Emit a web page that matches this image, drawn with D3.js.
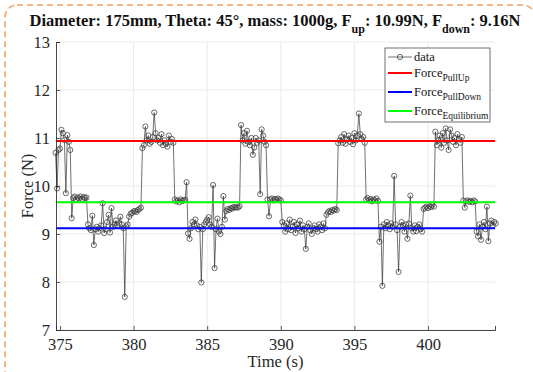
<!DOCTYPE html>
<html><head><meta charset="utf-8">
<script src="https://cdn.jsdelivr.net/npm/d3@7"></script>
<style>
html,body{margin:0;padding:0;background:#fff;}
svg{display:block;font-family:"Liberation Serif","Times New Roman",serif;}
svg text{font-family:"Liberation Serif","Times New Roman",serif;}
</style></head>
<body>
<svg id="c" width="533" height="372"></svg>
<script>
// ---- data ----
const time = [
374.7,374.8,374.9,375.0,375.1,375.2,375.3,375.4,375.5,375.6,375.7,375.8,375.9,376.0,376.1,376.2,376.3,376.4,376.5,376.6,
376.7,376.8,376.9,377.0,377.1,377.2,377.3,377.4,377.5,377.6,377.7,377.8,377.9,378.0,378.1,378.2,378.3,378.4,378.5,378.6,
378.7,378.8,378.9,379.0,379.1,379.2,379.3,379.4,379.5,379.6,379.7,379.8,379.9,380.0,380.1,380.2,380.3,380.4,380.5,380.6,
380.7,380.8,380.9,381.0,381.1,381.2,381.3,381.4,381.5,381.6,381.7,381.8,381.9,382.0,382.1,382.2,382.3,382.4,382.5,382.6,
382.7,382.8,382.9,383.0,383.1,383.2,383.3,383.4,383.5,383.6,383.7,383.8,383.9,384.0,384.1,384.2,384.3,384.4,384.5,384.6,
384.7,384.8,384.9,385.0,385.1,385.2,385.3,385.4,385.5,385.6,385.7,385.8,385.9,386.0,386.1,386.2,386.3,386.4,386.5,386.6,
386.7,386.8,386.9,387.0,387.1,387.2,387.3,387.4,387.5,387.6,387.7,387.8,387.9,388.0,388.1,388.2,388.3,388.4,388.5,388.6,
388.7,388.8,388.9,389.0,389.1,389.2,389.3,389.4,389.5,389.6,389.7,389.8,389.9,390.0,390.1,390.2,390.3,390.4,390.5,390.6,
390.7,390.8,390.9,391.0,391.1,391.2,391.3,391.4,391.5,391.6,391.7,391.8,391.9,392.0,392.1,392.2,392.3,392.4,392.5,392.6,
392.7,392.8,392.9,393.0,393.1,393.2,393.3,393.4,393.5,393.6,393.7,393.8,393.9,394.0,394.1,394.2,394.3,394.4,394.5,394.6,
394.7,394.8,394.9,395.0,395.1,395.2,395.3,395.4,395.5,395.6,395.7,395.8,395.9,396.0,396.1,396.2,396.3,396.4,396.5,396.6,
396.7,396.8,396.9,397.0,397.1,397.2,397.3,397.4,397.5,397.6,397.7,397.8,397.9,398.0,398.1,398.2,398.3,398.4,398.5,398.6,
398.7,398.8,398.9,399.0,399.1,399.2,399.3,399.4,399.5,399.6,399.7,399.8,399.9,400.0,400.1,400.2,400.3,400.4,400.5,400.6,
400.7,400.8,400.9,401.0,401.1,401.2,401.3,401.4,401.5,401.6,401.7,401.8,401.9,402.0,402.1,402.2,402.3,402.4,402.5,402.6,
402.7,402.8,402.9,403.0,403.1,403.2,403.3,403.4,403.5,403.6,403.7,403.8,403.9,404.0,404.1,404.2,404.3,404.4,404.5,404.6
];
const force = [
10.69,9.95,10.75,10.78,11.17,11.10,10.96,9.85,11.06,10.92,10.75,9.33,9.75,9.78,9.72,9.76,9.74,9.78,9.73,9.77,
9.75,9.76,9.20,9.12,9.08,9.38,8.77,9.10,9.15,9.05,9.12,9.18,9.64,9.02,9.10,9.25,9.40,9.03,9.54,9.15,
9.20,9.28,9.18,9.22,9.36,9.20,9.12,7.69,9.16,9.20,9.36,9.42,9.44,9.47,9.48,9.46,9.50,9.52,9.55,10.79,
10.85,11.24,10.95,11.05,10.88,10.92,11.02,11.53,11.10,10.95,11.00,10.90,11.08,10.85,10.95,10.88,10.82,11.05,10.92,10.98,
10.90,9.72,9.68,9.70,9.66,9.72,9.69,9.70,9.71,10.08,9.01,8.90,9.12,9.25,9.20,9.30,9.18,9.10,9.15,7.99,
9.10,9.20,9.25,9.30,9.35,9.20,9.15,10.02,8.29,9.10,9.32,9.05,9.00,9.15,9.79,9.30,9.48,9.52,9.50,9.54,
9.53,9.56,9.55,9.56,9.55,9.58,11.27,10.95,11.10,10.88,11.15,10.92,10.85,11.00,10.65,10.80,11.00,10.90,10.95,9.83,
11.18,11.05,10.92,10.85,9.72,9.37,9.72,9.74,9.70,9.73,9.71,9.74,9.72,9.70,9.25,9.18,9.05,9.22,9.10,9.30,
9.08,9.15,9.25,9.02,9.20,9.12,9.28,9.05,9.18,9.10,8.69,9.15,9.22,9.08,9.00,9.12,9.18,9.10,9.05,9.20,
9.15,9.08,9.22,9.12,9.40,9.45,9.48,9.46,9.50,9.49,9.52,9.50,10.89,10.95,11.02,10.90,11.08,10.88,10.97,11.05,
10.92,11.00,10.87,11.10,10.95,11.05,11.51,11.08,10.98,11.02,10.90,9.72,9.75,9.70,9.73,9.68,9.72,9.70,9.74,9.69,
8.84,9.15,7.92,9.20,9.12,9.25,9.18,9.10,9.22,9.15,10.21,9.20,9.08,8.21,9.15,9.25,9.18,9.05,9.20,8.90,
9.22,9.80,9.12,9.05,9.18,9.06,9.15,9.20,9.10,9.05,9.52,9.55,9.57,9.54,9.58,9.56,9.60,9.57,11.13,10.85,
10.95,11.05,10.80,11.10,10.90,11.20,10.95,10.75,11.18,11.05,10.92,11.00,10.85,11.08,10.98,10.90,11.02,9.70,9.55,9.68,
9.70,9.67,9.69,9.66,9.70,9.68,9.05,8.95,9.20,8.88,9.15,9.25,9.10,9.57,8.85,9.22,9.28,9.18,9.25,9.22
];
const refNames = ["PullUp","PullDown","Equilibrium"];
const refValues = [10.94, 9.12, 9.66];
const refColors = ["#ff0000","#0000ff","#00ff00"];
const xTicks = [375,380,385,390,395,400];
const yTicks = [7,8,9,10,11,12,13];
const xDomain = [374.73, 404.55];
const yDomain = [7, 13];

// ---- layout ----
const FONT = "'Liberation Serif','Times New Roman',serif";
const svg = d3.select("#c");
const L = 56, R = 495, T = 42, B = 330;
const x = d3.scaleLinear().domain(xDomain).range([L, R]);
const y = d3.scaleLinear().domain(yDomain).range([B, T]);

// orange dashed frame
svg.append("rect").attr("x",5).attr("y",5).attr("width",530).attr("height",420).attr("rx",12)
  .attr("fill","none").attr("stroke","#f2a35e").attr("stroke-width",1.6).attr("stroke-dasharray","6,4");

// grid
const g = svg.append("g");
g.selectAll(".gx").data(xTicks).join("line")
  .attr("x1",d=>x(d)).attr("x2",d=>x(d)).attr("y1",T).attr("y2",B)
  .attr("stroke","#e6e6e6").attr("stroke-width",0.8);
g.selectAll(".gy").data(yTicks).join("line")
  .attr("x1",L).attr("x2",R).attr("y1",d=>y(d)).attr("y2",d=>y(d))
  .attr("stroke","#e6e6e6").attr("stroke-width",0.8);

// data line + markers
const pts = time.map((t,i)=>[t, force[i]]);
svg.append("path").datum(pts)
  .attr("d", d3.line().x(d=>x(d[0])).y(d=>y(d[1])))
  .attr("fill","none").attr("stroke","#333").attr("stroke-width",0.7);
svg.append("g").selectAll("circle").data(pts).join("circle")
  .attr("cx",d=>x(d[0])).attr("cy",d=>y(d[1])).attr("r",2.6)
  .attr("fill","none").attr("stroke","#3a3a3a").attr("stroke-width",0.75);

// reference lines
svg.append("g").selectAll("line").data(refValues).join("line")
  .attr("x1",x(xDomain[0])).attr("x2",x(xDomain[1]))
  .attr("y1",d=>y(d)).attr("y2",d=>y(d))
  .attr("stroke",(d,i)=>refColors[i]).attr("stroke-width",2);

// axes
const ax = svg.append("g").attr("transform",`translate(0,${B})`)
  .call(d3.axisBottom(x).tickValues(xTicks).tickSize(-4).tickPadding(8).tickFormat(d3.format("d")));
const ay = svg.append("g").attr("transform",`translate(${L},0)`)
  .call(d3.axisLeft(y).tickValues(yTicks).tickSize(-4).tickPadding(6).tickFormat(d3.format("d")));
[ax, ay].forEach(a=>{
  a.attr("font-family", FONT).attr("font-size", 16.5);
  a.select(".domain").attr("stroke","#333").attr("stroke-width",0.9);
  a.selectAll(".tick line").attr("stroke","#333").attr("stroke-width",0.8);
  a.selectAll(".tick text").attr("fill","#262626").attr("font-family", FONT).attr("font-size", 16.5);
});

// axis titles
svg.append("text").attr("x",(L+R)/2).attr("y",367).attr("text-anchor","middle")
  .attr("font-family", FONT).attr("font-size",16.5).attr("fill","#262626").text("Time (s)");
svg.append("text").attr("transform",`translate(33,${(T+B)/2}) rotate(-90)`).attr("text-anchor","middle")
  .attr("font-family", FONT).attr("font-size",16.5).attr("fill","#262626").text("Force (N)");

// title
const title = svg.append("text").attr("x",275).attr("y",26).attr("text-anchor","middle")
  .attr("font-family", FONT).attr("font-size",16.5).attr("font-weight","bold").attr("fill","#111");
title.append("tspan").text("Diameter: 175mm, Theta: 45°, mass: 1000g, F");
title.append("tspan").attr("dy",7).attr("font-size",12).text("up");
title.append("tspan").attr("dy",-7).text(": 10.99N, F");
title.append("tspan").attr("dy",7).attr("font-size",12).text("down");
title.append("tspan").attr("dy",-7).text(": 9.16N");

// legend
const lg = svg.append("g").attr("font-family", FONT);
lg.append("rect").attr("x",385).attr("y",48).attr("width",105).attr("height",74)
  .attr("fill","#fff").attr("stroke","#333").attr("stroke-width",0.7);
lg.append("line").attr("x1",388).attr("x2",412).attr("y1",57).attr("y2",57).attr("stroke","#333").attr("stroke-width",0.7);
lg.append("circle").attr("cx",400).attr("cy",57).attr("r",2.6).attr("fill","none").attr("stroke","#3a3a3a").attr("stroke-width",0.75);
lg.append("text").attr("x",414).attr("y",61).attr("font-size",12.5).attr("fill","#111").text("data");
const rowsY = [73, 92, 111];
refNames.forEach((n,i)=>{
  lg.append("line").attr("x1",388).attr("x2",412).attr("y1",rowsY[i]).attr("y2",rowsY[i])
    .attr("stroke",refColors[i]).attr("stroke-width",2);
  const t = lg.append("text").attr("x",414).attr("y",rowsY[i]+4).attr("font-size",12.5).attr("fill","#111");
  t.append("tspan").text("Force");
  t.append("tspan").attr("dy",4).attr("font-size",9.5).text(n);
});
</script>
</body></html>
